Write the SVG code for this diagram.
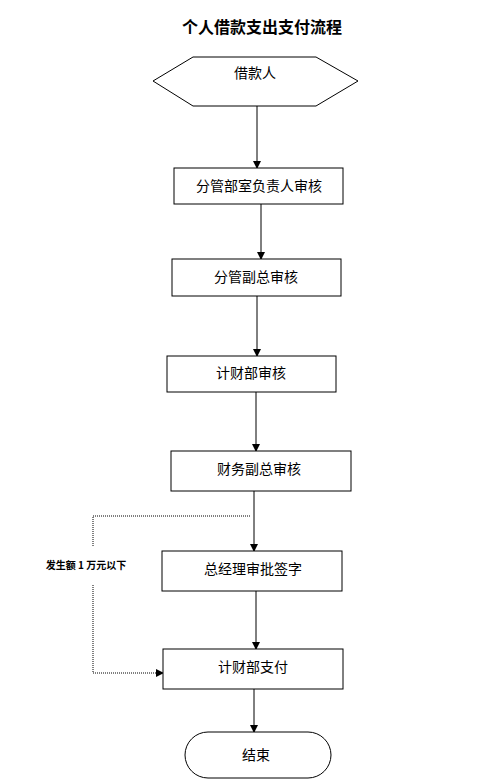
<svg xmlns="http://www.w3.org/2000/svg" width="487" height="782" viewBox="0 0 487 782">
<style>
.n{fill:#fff;stroke:#000;stroke-width:1}
.t{font-family:"Liberation Sans","Noto Sans CJK SC",sans-serif;font-size:14px;fill:#000;text-anchor:middle;dominant-baseline:central}
.c{stroke:#000;stroke-width:1;fill:none}
.d{stroke:#000;stroke-width:1;fill:none;stroke-dasharray:1 1}
</style>
<defs>
<marker id="ah" markerWidth="8" markerHeight="8" refX="7" refY="4" orient="auto" markerUnits="userSpaceOnUse">
<path d="M0,0 L8,4 L0,8 Z" fill="#000"/>
</marker>
</defs>
<rect width="487" height="782" fill="#fff"/>
<text x="262" y="26" font-family="'Noto Sans CJK SC',sans-serif" font-size="16" font-weight="bold" text-anchor="middle" dominant-baseline="central">个人借款支出支付流程</text>
<g id="connectors">
<line class="c" x1="257" y1="106" x2="257" y2="168" marker-end="url(#ah)"/>
<line class="c" x1="261" y1="204" x2="261" y2="259" marker-end="url(#ah)"/>
<line class="c" x1="257" y1="296" x2="257" y2="356" marker-end="url(#ah)"/>
<line class="c" x1="256" y1="392" x2="256" y2="451" marker-end="url(#ah)"/>
<line class="c" x1="254" y1="491" x2="254" y2="551" marker-end="url(#ah)"/>
<line class="c" x1="256" y1="591" x2="256" y2="649" marker-end="url(#ah)"/>
<line class="c" x1="254" y1="689" x2="254" y2="732" marker-end="url(#ah)"/>
<polyline class="d" points="250,516 93,516 93,547"/>
<polyline class="d" points="93,585 93,673 163,673" marker-end="url(#ah)"/>
<text x="86" y="564" font-family="'Noto Sans CJK SC',sans-serif" font-size="10" font-weight="bold" text-anchor="middle" dominant-baseline="central">发生额 1 万元以下</text>
</g>
<g id="n0">
<polygon class="n" points="153,81 193,57 316,57 358,81 316,106 193,106"/>
<text class="t" x="255" y="73">借款人</text>
</g>
<g id="n1">
<rect class="n" x="174" y="168" width="169" height="36"/>
<text class="t" x="259" y="186">分管部室负责人审核</text>
</g>
<g id="n2">
<rect class="n" x="172" y="259" width="169" height="37"/>
<text class="t" x="256" y="277">分管副总审核</text>
</g>
<g id="n3">
<rect class="n" x="167" y="356" width="169" height="36"/>
<text class="t" x="251" y="373">计财部审核</text>
</g>
<g id="n4">
<rect class="n" x="171" y="451" width="180" height="40"/>
<text class="t" x="259" y="469">财务副总审核</text>
</g>
<g id="n5">
<rect class="n" x="162" y="551" width="180" height="40"/>
<text class="t" x="253" y="569">总经理审批签字</text>
</g>
<g id="n6">
<rect class="n" x="163" y="649" width="180" height="40"/>
<text class="t" x="253" y="667">计财部支付</text>
</g>
<g id="n7">
<rect class="n" x="185" y="732" width="146" height="46" rx="23" ry="23"/>
<text class="t" x="256" y="755">结束</text>
</g>
</svg>
